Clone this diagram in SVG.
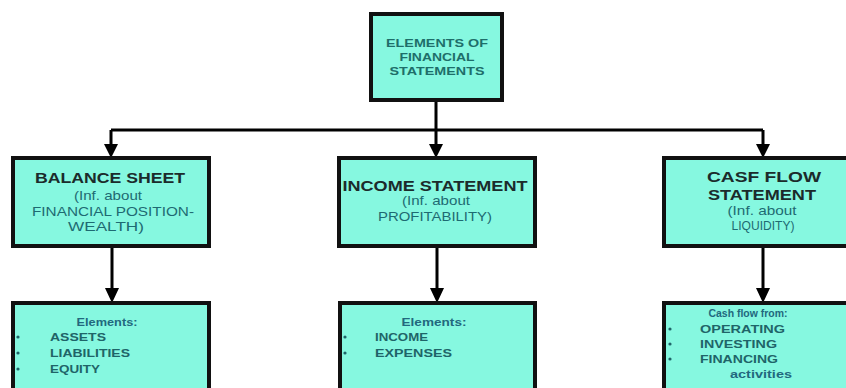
<svg xmlns="http://www.w3.org/2000/svg" width="846" height="388" viewBox="0 0 846 388">
<style>
.box{fill:#86f8e0;stroke:#111;stroke-width:4}
.t{font-family:"Liberation Sans",Arial,sans-serif;font-weight:bold;font-size:15px;fill:#1b2b2b;text-anchor:middle}
.s{font-family:"Liberation Sans",Arial,sans-serif;font-size:13px;fill:#1e6a72;text-anchor:middle}
.h{font-family:"Liberation Sans",Arial,sans-serif;font-weight:bold;font-size:11.5px;fill:#1e6e6a;text-anchor:middle}
.e{font-family:"Liberation Sans",Arial,sans-serif;font-weight:bold;font-size:11.5px;fill:#22687e;text-anchor:middle}
.i{font-family:"Liberation Sans",Arial,sans-serif;font-weight:bold;font-size:11.5px;fill:#1f6468}
.b{fill:#1f6468}
.ln{stroke:#000;stroke-width:3;fill:none}
.ah{fill:#000}
</style>
<rect width="846" height="388" fill="#fff"/>
<g id="connectors">
<path class="ln" d="M436 100V130M111 130H763M111 130V146M436 130V146M763 130V146"/>
<polygon class="ah" points="104,144 118,144 111,158"/>
<polygon class="ah" points="429,144 443,144 436,158"/>
<polygon class="ah" points="756,144 770,144 763,158"/>
<path class="ln" d="M112 246V290M437 246V290M763 246V290"/>
<polygon class="ah" points="105,288 119,288 112,303"/>
<polygon class="ah" points="430,288 444,288 437,303"/>
<polygon class="ah" points="756,288 770,288 763,303"/>
</g>
<g id="root">
<rect class="box" x="371" y="14" width="131" height="86"/>
<text class="h" x="437" y="47" textLength="102" lengthAdjust="spacingAndGlyphs">ELEMENTS OF</text>
<text class="h" x="437" y="61" textLength="75" lengthAdjust="spacingAndGlyphs">FINANCIAL</text>
<text class="h" x="437" y="75" textLength="95" lengthAdjust="spacingAndGlyphs">STATEMENTS</text>
</g>
<g id="balance">
<rect class="box" x="13" y="158" width="196" height="88"/>
<text class="t" x="110" y="183" textLength="150" lengthAdjust="spacingAndGlyphs">BALANCE SHEET</text>
<text class="s" x="108" y="200" textLength="68" lengthAdjust="spacingAndGlyphs">(Inf. about</text>
<text class="s" x="113" y="216" textLength="162" lengthAdjust="spacingAndGlyphs">FINANCIAL POSITION-</text>
<text class="s" x="106" y="231" textLength="76" lengthAdjust="spacingAndGlyphs">WEALTH)</text>
</g>
<g id="income">
<rect class="box" x="339" y="158" width="196" height="88"/>
<text class="t" x="435" y="191" textLength="185" lengthAdjust="spacingAndGlyphs">INCOME STATEMENT</text>
<text class="s" x="436" y="205" textLength="68" lengthAdjust="spacingAndGlyphs">(Inf. about</text>
<text class="s" x="435" y="221" textLength="114" lengthAdjust="spacingAndGlyphs">PROFITABILITY)</text>
</g>
<g id="cashflow">
<rect class="box" x="664" y="158" width="190" height="88"/>
<text class="t" x="764" y="182" textLength="114" lengthAdjust="spacingAndGlyphs">CASF FLOW</text>
<text class="t" x="762" y="200" textLength="108" lengthAdjust="spacingAndGlyphs">STATEMENT</text>
<text class="s" x="762" y="215" textLength="69" lengthAdjust="spacingAndGlyphs">(Inf. about</text>
<text class="s" x="763" y="230" textLength="63" lengthAdjust="spacingAndGlyphs">LIQUIDITY)</text>
</g>
<g id="balance-elements">
<rect class="box" x="13" y="303" width="196" height="95"/>
<text class="e" x="107" y="326" textLength="61" lengthAdjust="spacingAndGlyphs">Elements:</text>
<circle class="b" cx="18" cy="337" r="1.6"/>
<circle class="b" cx="18" cy="353" r="1.6"/>
<circle class="b" cx="18" cy="369" r="1.6"/>
<text class="i" x="50" y="341" textLength="56" lengthAdjust="spacingAndGlyphs">ASSETS</text>
<text class="i" x="50" y="357" textLength="80" lengthAdjust="spacingAndGlyphs">LIABILITIES</text>
<text class="i" x="50" y="373" textLength="50" lengthAdjust="spacingAndGlyphs">EQUITY</text>
</g>
<g id="income-elements">
<rect class="box" x="340" y="303" width="195" height="95"/>
<text class="e" x="434" y="326" textLength="65" lengthAdjust="spacingAndGlyphs">Elements:</text>
<circle class="b" cx="345" cy="337" r="1.6"/>
<circle class="b" cx="345" cy="353" r="1.6"/>
<text class="i" x="375" y="341" textLength="53" lengthAdjust="spacingAndGlyphs">INCOME</text>
<text class="i" x="375" y="357" textLength="77" lengthAdjust="spacingAndGlyphs">EXPENSES</text>
</g>
<g id="cashflow-elements">
<rect class="box" x="664" y="303" width="190" height="95"/>
<text class="e" x="748" y="317" textLength="79" lengthAdjust="spacingAndGlyphs">Cash flow from:</text>
<circle class="b" cx="670" cy="329" r="1.6"/>
<circle class="b" cx="670" cy="344" r="1.6"/>
<circle class="b" cx="670" cy="359" r="1.6"/>
<text class="i" x="700" y="333" textLength="85" lengthAdjust="spacingAndGlyphs">OPERATING</text>
<text class="i" x="700" y="348" textLength="77" lengthAdjust="spacingAndGlyphs">INVESTING</text>
<text class="i" x="700" y="363" textLength="78" lengthAdjust="spacingAndGlyphs">FINANCING</text>
<text class="e" x="761" y="378" textLength="62" lengthAdjust="spacingAndGlyphs">activities</text>
</g>
</svg>
